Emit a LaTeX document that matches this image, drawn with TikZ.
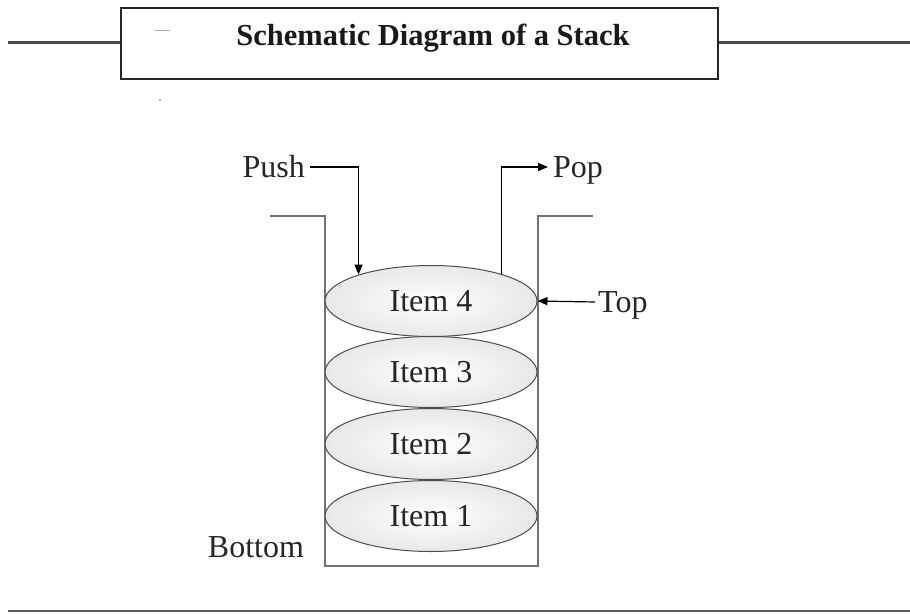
\documentclass[tikz,border=0pt]{standalone}
\usepackage{fontspec}
\setmainfont{Liberation Serif}
\usetikzlibrary{shapes.geometric,arrows.meta}
\begin{document}
\begin{tikzpicture}[x=1pt,y=-1pt,
  lbl/.style={inner sep=5pt,font=\fontsize{32}{32}\selectfont,text=black!85,text height=21pt,text depth=0pt},
  item/.style={ellipse,draw=black!70,line width=1pt,minimum width=212pt,minimum height=71pt,inner sep=0pt,
    inner color=white,outer color=black!9,font=\fontsize{32}{32}\selectfont,text=black!85},
  wall/.style={draw=black!55,line width=1.5pt},
  arr/.style={draw=black,line width=1.2pt,-{Triangle[length=10pt,width=8pt]}},
  rule/.style={draw=black!70,line width=3pt}]
\useasboundingbox (0,0) rectangle (910,613);
% title
\node[draw=black!85,line width=2.5pt,minimum width=597pt,minimum height=71pt,inner sep=0pt] (title) at (419.5,43.5) {};
\node[font=\bfseries\fontsize{30.5}{30.5}\selectfont,text=black!90] (ttext) at (433,38.5) {Schematic Diagram of a Stack};
\coordinate (ll) at (8,42);
\coordinate (rr) at (910,42);
\draw[rule] (ll) -- (ll -| title.west);
\draw[rule] (title.east |- rr) -- (rr);
\draw[black!35,line width=0.8pt] (155,30) -- (170,30);
\fill[black!40] (160,100) circle (1.2pt);
% container
\draw[wall] (270,216) -- (325,216) -- (325,566) -- (538,566) -- (538,216) -- (593,216);
% items
\node[item] (i1) at (431,516) {Item 1};
\node[item] (i2) at (431,444) {Item 2};
\node[item] (i3) at (431,372) {Item 3};
\node[item] (i4) at (431,301) {Item 4};
% labels
\node[lbl,anchor=east] (push) at (310,167) {Push};
\node[lbl,anchor=west] (pop) at (548,167) {Pop};
\node[lbl,anchor=west,inner sep=3pt] (top) at (595,302) {Top};
\node[lbl,anchor=center] (bottom) at (256,547) {Bottom};
% arrows
\draw[arr] (push.east) -| (i4.160);
\draw[arr] (i4.21.5) |- (pop.west);
\draw[arr] (top.west) -- (i4.east);
% bottom rule
\coordinate (bl) at (8,611);
\coordinate (br) at (910,611);
\draw[draw=black!65,line width=2pt] (bl) -- (br);
\end{tikzpicture}
\end{document}
